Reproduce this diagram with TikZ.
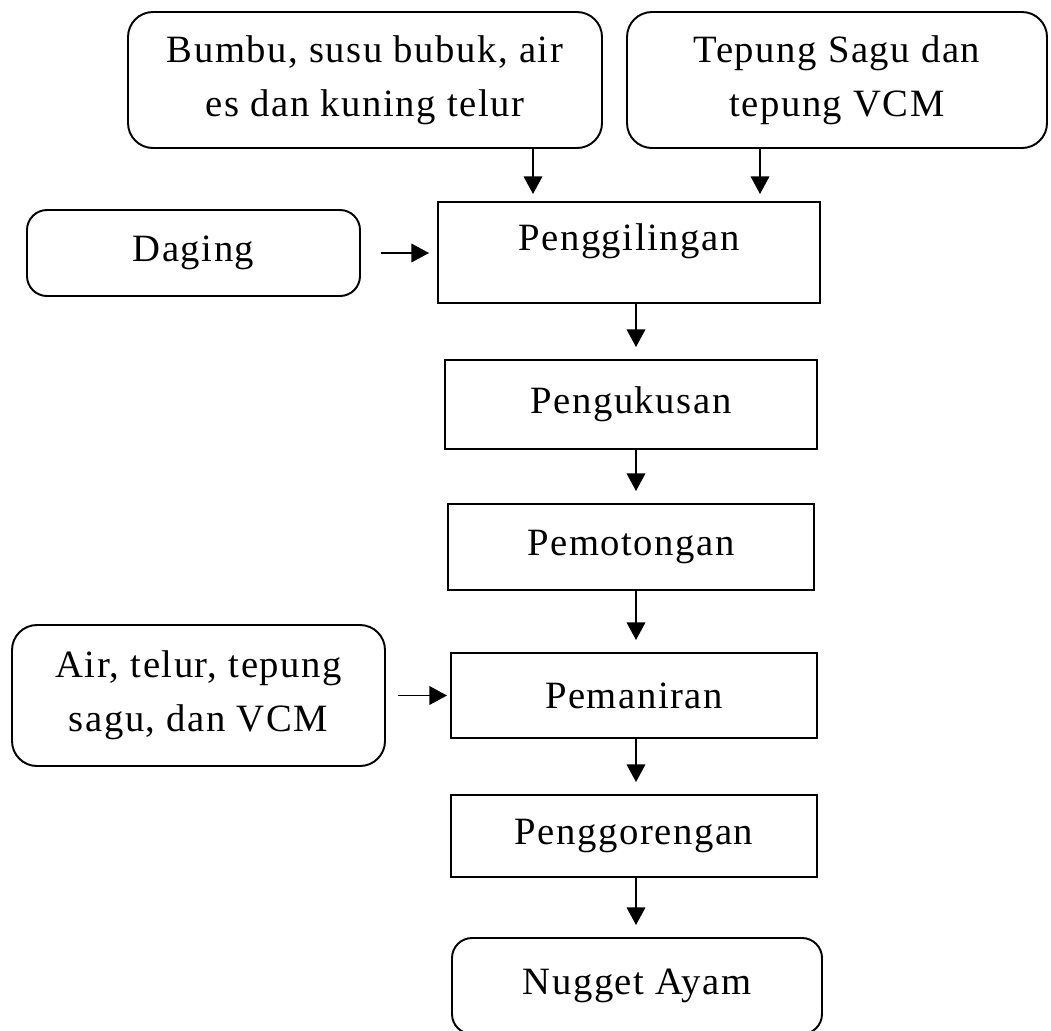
\documentclass[tikz,border=0pt]{standalone}
\usepackage{fontspec}
\setmainfont[LetterSpace=4]{Liberation Serif}
\usepackage{tikz}
\usetikzlibrary{arrows.meta,positioning,calc}

\begin{document}
\begin{tikzpicture}[
  font=\fontsize{22}{31}\selectfont,
  proses/.style={draw,line width=1.1pt,align=center,inner sep=0pt},
  bahan/.style={proses,rounded corners=0.5cm},
  panah/.style={line width=1.1pt,-{Triangle[length=10pt,width=10.5pt]}}
]
\useasboundingbox (0,0) rectangle (21.02,-20.6);

% Bahan tambahan (atas)
\node[bahan,minimum width=9.48cm,minimum height=2.72cm] (bumbu) at (7.30,-1.60) {Bumbu, susu bubuk, air\\es dan kuning telur};
\node[bahan,minimum width=8.40cm,minimum height=2.72cm] (tepung) at (16.74,-1.60) {Tepung Sagu dan\\tepung VCM};

% Bahan utama
\node[bahan,rounded corners=0.4cm,minimum width=6.66cm,minimum height=1.72cm] (daging) at (3.87,-5.06) {Daging};

% Tahap proses
\node[proses,minimum width=7.64cm,minimum height=2.02cm,text depth=0.63cm] (giling) at (12.58,-5.05) {Penggilingan};
\node[proses,minimum width=7.44cm,minimum height=1.78cm] (kukus) at (12.62,-8.09) {Pengukusan};
\node[proses,minimum width=7.32cm,minimum height=1.72cm] (potong) at (12.62,-10.94) {Pemotongan};
\node[proses,minimum width=7.32cm,minimum height=1.70cm] (manir) at (12.68,-13.91) {Pemaniran};
\node[proses,minimum width=7.32cm,minimum height=1.64cm] (goreng) at (12.68,-16.72) {Penggorengan};

% Bahan pelapis
\node[bahan,minimum width=7.46cm,minimum height=2.82cm] (air) at (3.97,-13.91) {Air, telur, tepung\\sagu, dan VCM};

% Hasil akhir
\node[bahan,rounded corners=0.4cm,minimum width=7.40cm,minimum height=1.92cm] (nugget) at (12.74,-19.72) {Nugget Ayam};

% Garis bantu panah
\coordinate (kiri) at (10.66,0);
\coordinate (kanan) at (15.20,0);
\coordinate (tengah) at (12.72,0);

% Panah masuk ke penggilingan
\draw[panah,shorten >=0.14cm] (bumbu.south -| kiri) -- (giling.north -| kiri);
\draw[panah,shorten >=0.14cm] (tepung.south -| kanan) -- (giling.north -| kanan);
\draw[panah,shorten <=0.4cm,shorten >=0.16cm] (daging.east) -- (giling.west |- daging.east);

% Panah alur proses
\foreach \a/\b in {giling/kukus,kukus/potong,potong/manir,manir/goreng,goreng/nugget}
  \draw[panah,shorten >=0.24cm] (\a.south -| tengah) -- (\b.north -| tengah);

% Panah bahan pelapis
\draw[panah,shorten <=0.24cm,shorten >=0.06cm] (air.east) -- (manir.west);
\end{tikzpicture}
\end{document}
